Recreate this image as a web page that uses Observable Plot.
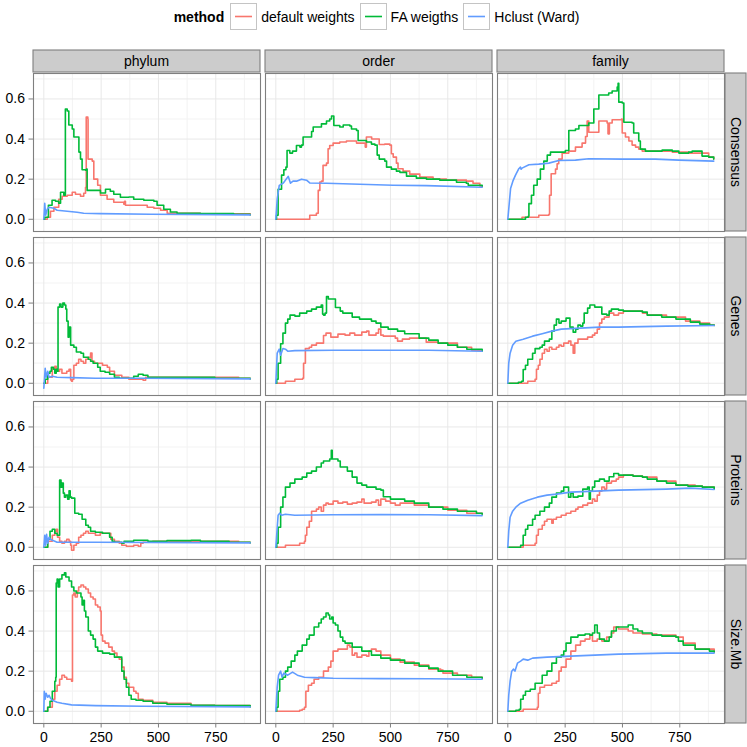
<!DOCTYPE html>
<html>
<head>
<meta charset="utf-8">
<script src="https://cdn.jsdelivr.net/npm/d3@7"></script>
<script src="https://cdn.jsdelivr.net/npm/@observablehq/plot@0.6"></script>
<style>
  html, body { margin: 0; padding: 0; background: white; }
  body { width: 747px; height: 747px; overflow: hidden; font-family: "Liberation Sans", Arial, Helvetica, sans-serif; }
  #legend { height: 48px; box-sizing: border-box; padding: 3px 22px 0 33px; display: flex; justify-content: center; align-items: flex-start; font-size: 14px; color: #000; }
  #legend .item { display: flex; align-items: center; height: 27px; }
  #legend .title { font-weight: bold; margin-right: 6px; }
  #legend .key { width: 25px; height: 25px; border: 1px solid #c4c4c4; background: white; margin-right: 4px; }
  #legend .lab { margin-right: 5px; }
  #chart svg { display: block; }
</style>
</head>
<body>
<div id="legend"></div>
<div id="chart"></div>
<script>
// ---- categories ----
const cols = ["phylum", "order", "family"];
const rows = ["Consensus", "Genes", "Proteins", "Size.Mb"];
const methods = ["default weights", "FA weigths", "Hclust (Ward)"];
const methodColors = ["#F8766D", "#00BA38", "#619CFF"];
const xTicks = [0, 250, 500, 750];
const xMinor = [125, 375, 625, 875];
const yTicks = [0, 0.2, 0.4, 0.6];
const yMinor = [0.1, 0.3, 0.5, 0.7];

// ---- series values: [x, y] ----
// Consensus
const cons_phy_def = [[0,0],[15,0.01],[29,0.04],[44,0.06],[65,0.10],[80,0.115],[102,0.12],[124,0.135],[138,0.125],[160,0.115],[174,0.13],[182,0.16],[185,0.51],[192,0.50],[193,0.30],[211,0.29],[218,0.20],[233,0.20],[235,0.17],[247,0.12],[276,0.10],[305,0.085],[349,0.075],[352,0.09],[356,0.07],[407,0.07],[451,0.06],[480,0.055],[509,0.045],[538,0.03],[567,0.03],[683,0.027],[900,0.022]];
const cons_phy_fa = [[0,0],[4,0.01],[20,0.07],[36,0.095],[51,0.09],[65,0.08],[73,0.135],[87,0.12],[94,0.55],[102,0.54],[109,0.47],[124,0.45],[131,0.41],[148,0.41],[153,0.335],[160,0.30],[167,0.247],[182,0.245],[186,0.25],[189,0.144],[247,0.131],[269,0.15],[290,0.14],[305,0.125],[334,0.11],[371,0.111],[392,0.10],[436,0.095],[480,0.09],[494,0.07],[523,0.05],[552,0.036],[581,0.03],[683,0.028],[828,0.025],[900,0.022]];
const cons_phy_hc = [[0,0],[4,0.08],[8,0.02],[15,0.05],[22,0.06],[44,0.055],[58,0.045],[102,0.04],[145,0.035],[174,0.03],[247,0.028],[465,0.025],[900,0.022]];
const cons_ord_def = [[0,0],[148,0.02],[177,0.03],[185,0.144],[192,0.186],[199,0.19],[206,0.269],[221,0.28],[228,0.352],[235,0.368],[250,0.38],[279,0.385],[308,0.39],[344,0.39],[352,0.38],[385,0.38],[390,0.36],[395,0.41],[410,0.41],[418,0.40],[439,0.40],[451,0.373],[475,0.375],[497,0.37],[504,0.327],[512,0.31],[526,0.28],[533,0.252],[555,0.24],[584,0.225],[628,0.21],[686,0.20],[744,0.195],[831,0.19],[860,0.18],[890,0.165],[900,0.163]];
const cons_ord_fa = [[0,0],[3,0.02],[10,0.15],[25,0.22],[35,0.247],[44,0.26],[49,0.343],[61,0.33],[73,0.34],[90,0.368],[105,0.36],[112,0.37],[119,0.41],[148,0.41],[156,0.438],[163,0.46],[199,0.476],[221,0.49],[235,0.50],[243,0.515],[253,0.468],[279,0.46],[294,0.47],[323,0.465],[330,0.45],[352,0.443],[359,0.393],[395,0.385],[417,0.375],[432,0.37],[442,0.32],[451,0.30],[475,0.29],[483,0.26],[504,0.25],[526,0.24],[541,0.234],[570,0.215],[613,0.205],[657,0.20],[715,0.195],[788,0.185],[831,0.18],[839,0.17],[875,0.17],[900,0.165]];
const cons_ord_hc = [[0,0],[6,0.10],[15,0.169],[32,0.18],[54,0.214],[64,0.18],[75,0.19],[90,0.19],[112,0.20],[134,0.195],[148,0.181],[221,0.18],[366,0.175],[512,0.17],[657,0.168],[900,0.16]];
const cons_fam_def = [[0,0],[62,0.01],[135,0.02],[179,0.025],[182,0.12],[189,0.227],[208,0.25],[215,0.277],[222,0.30],[237,0.33],[266,0.34],[295,0.36],[324,0.38],[339,0.413],[346,0.49],[353,0.434],[397,0.49],[411,0.49],[433,0.48],[437,0.426],[443,0.48],[455,0.496],[496,0.50],[499,0.43],[513,0.41],[528,0.39],[542,0.37],[557,0.36],[571,0.35],[586,0.34],[644,0.34],[717,0.335],[789,0.33],[876,0.31],[898,0.30]];
const cons_fam_fa = [[0,0],[77,0.01],[89,0.015],[92,0.078],[103,0.12],[113,0.17],[128,0.20],[142,0.25],[157,0.29],[172,0.32],[186,0.335],[251,0.343],[266,0.443],[295,0.45],[310,0.468],[353,0.48],[375,0.55],[397,0.62],[440,0.63],[455,0.64],[477,0.66],[481,0.678],[484,0.584],[499,0.58],[506,0.484],[542,0.48],[549,0.43],[571,0.39],[578,0.35],[600,0.34],[673,0.345],[717,0.34],[746,0.33],[789,0.335],[804,0.34],[833,0.34],[847,0.315],[876,0.31],[898,0.30]];
const cons_fam_hc = [[0,0],[4,0.05],[12,0.153],[22,0.19],[33,0.219],[48,0.252],[55,0.26],[58,0.25],[62,0.255],[92,0.272],[135,0.275],[179,0.28],[222,0.293],[295,0.295],[353,0.302],[499,0.30],[644,0.30],[746,0.295],[898,0.29]];
// Genes
const gene_phy_def = [[0,0],[17,0.03],[37,0.074],[48,0.085],[54,0.06],[69,0.07],[79,0.05],[100,0.06],[110,0.07],[117,0.016],[121,0.01],[125,0.02],[131,0.09],[142,0.10],[152,0.12],[162,0.11],[173,0.10],[183,0.12],[194,0.13],[204,0.151],[210,0.11],[221,0.10],[246,0.10],[256,0.09],[277,0.08],[287,0.06],[308,0.04],[340,0.03],[371,0.02],[433,0.015],[444,0.03],[475,0.03],[642,0.03],[850,0.025],[900,0.022]];
const gene_phy_fa = [[0,0],[6,0.02],[17,0.05],[27,0.06],[33,0.08],[42,0.07],[48,0.05],[54,0.07],[58,0.06],[62,0.38],[69,0.395],[75,0.38],[83,0.40],[90,0.39],[96,0.37],[100,0.31],[106,0.23],[110,0.28],[114,0.28],[117,0.19],[131,0.18],[142,0.156],[162,0.15],[173,0.13],[194,0.12],[204,0.11],[215,0.10],[235,0.08],[246,0.06],[267,0.055],[287,0.045],[308,0.03],[329,0.025],[371,0.025],[392,0.035],[412,0.045],[433,0.04],[454,0.03],[537,0.03],[683,0.03],[746,0.025],[900,0.022]];
const gene_phy_hc = [[0,-0.025],[6,0.075],[10,0.03],[17,0.06],[23,0.03],[37,0.035],[58,0.03],[121,0.028],[225,0.025],[433,0.025],[900,0.022]];
const gene_ord_def = [[0,0],[42,0.01],[83,0.02],[117,0.025],[121,0.10],[129,0.173],[146,0.18],[156,0.19],[177,0.20],[198,0.20],[208,0.238],[219,0.25],[229,0.25],[240,0.23],[271,0.245],[302,0.24],[323,0.25],[344,0.24],[375,0.255],[396,0.26],[406,0.24],[437,0.25],[448,0.27],[458,0.24],[469,0.235],[521,0.225],[531,0.21],[552,0.22],[583,0.225],[646,0.225],[656,0.205],[708,0.20],[792,0.18],[854,0.165],[900,0.16]];
const gene_ord_fa = [[0,0],[4,0.02],[10,0.10],[21,0.197],[31,0.25],[42,0.30],[52,0.32],[62,0.34],[83,0.335],[104,0.35],[125,0.35],[135,0.36],[156,0.37],[177,0.38],[198,0.39],[204,0.345],[208,0.34],[215,0.35],[221,0.432],[229,0.42],[250,0.42],[260,0.378],[281,0.36],[292,0.35],[333,0.33],[365,0.32],[417,0.31],[437,0.30],[458,0.28],[490,0.27],[531,0.26],[562,0.247],[625,0.225],[667,0.215],[708,0.20],[750,0.19],[792,0.18],[833,0.17],[900,0.16]];
const gene_ord_hc = [[0,0],[6,0.15],[15,0.17],[21,0.14],[31,0.173],[42,0.17],[52,0.16],[83,0.163],[250,0.165],[458,0.165],[667,0.165],[900,0.16]];
const gene_fam_def = [[0,0],[87,0.01],[119,0.02],[125,0.07],[133,0.09],[140,0.12],[150,0.15],[160,0.17],[171,0.16],[181,0.18],[192,0.17],[212,0.18],[223,0.19],[233,0.185],[244,0.20],[265,0.21],[275,0.19],[285,0.15],[292,0.20],[306,0.22],[327,0.22],[348,0.23],[369,0.24],[379,0.25],[390,0.27],[400,0.30],[410,0.32],[421,0.33],[442,0.35],[462,0.34],[483,0.35],[504,0.36],[546,0.36],[587,0.35],[608,0.34],[692,0.33],[775,0.31],[837,0.30],[880,0.29],[900,0.288]];
const gene_fam_fa = [[0,0],[46,0.005],[60,0.01],[67,0.069],[77,0.09],[87,0.12],[108,0.15],[119,0.173],[140,0.18],[150,0.19],[160,0.21],[181,0.22],[192,0.26],[202,0.29],[212,0.32],[223,0.30],[233,0.31],[254,0.325],[265,0.325],[271,0.28],[285,0.255],[296,0.27],[306,0.29],[317,0.285],[327,0.30],[333,0.35],[348,0.375],[358,0.39],[379,0.38],[400,0.38],[410,0.345],[431,0.34],[442,0.36],[452,0.37],[483,0.365],[504,0.36],[587,0.355],[608,0.34],[671,0.33],[733,0.32],[796,0.305],[837,0.295],[880,0.29],[900,0.288]];
const gene_fam_hc = [[0,0],[4,0.10],[10,0.15],[21,0.19],[35,0.21],[67,0.22],[108,0.235],[150,0.247],[192,0.26],[233,0.27],[317,0.275],[400,0.28],[483,0.28],[692,0.285],[900,0.288]];
// Proteins
const prot_phy_def = [[0,0],[17,0.03],[37,0.06],[48,0.08],[54,0.09],[60,0.05],[69,0.03],[79,0.02],[90,0.03],[100,0.04],[110,0.03],[117,0.01],[121,-0.015],[131,0.01],[142,0.02],[152,0.05],[162,0.06],[173,0.07],[183,0.08],[194,0.07],[215,0.07],[225,0.06],[246,0.07],[287,0.07],[292,0.04],[308,0.03],[329,0.02],[340,0.01],[360,0.005],[392,0.01],[412,0.005],[423,0.02],[433,0.025],[475,0.03],[642,0.03],[850,0.025],[900,0.022]];
const prot_phy_fa = [[0,0],[17,0.04],[27,0.08],[37,0.09],[48,0.07],[58,0.06],[65,0.06],[69,0.335],[75,0.30],[79,0.32],[85,0.27],[90,0.25],[96,0.26],[104,0.24],[110,0.282],[115,0.25],[121,0.245],[131,0.245],[135,0.17],[152,0.165],[167,0.14],[183,0.11],[194,0.10],[204,0.08],[225,0.075],[256,0.07],[277,0.07],[287,0.05],[298,0.03],[308,0.025],[340,0.02],[350,0.03],[392,0.035],[433,0.035],[454,0.03],[537,0.033],[642,0.035],[683,0.03],[808,0.025],[900,0.022]];
const prot_phy_hc = [[0,0],[4,0.06],[8,0.01],[12,0.065],[17,0.02],[23,0.05],[29,0.04],[37,0.035],[48,0.03],[58,0.025],[225,0.025],[900,0.022]];
const prot_ord_def = [[0,0],[42,0.01],[104,0.02],[125,0.03],[129,0.06],[135,0.10],[146,0.13],[156,0.18],[177,0.19],[187,0.20],[198,0.18],[208,0.21],[219,0.22],[229,0.215],[250,0.23],[271,0.22],[292,0.225],[312,0.215],[333,0.22],[354,0.225],[375,0.24],[385,0.22],[417,0.225],[437,0.235],[448,0.21],[458,0.24],[479,0.23],[500,0.22],[521,0.21],[542,0.22],[562,0.22],[604,0.21],[667,0.20],[750,0.185],[833,0.17],[900,0.165]];
const prot_ord_fa = [[0,0],[4,0.02],[10,0.10],[21,0.20],[31,0.25],[42,0.30],[62,0.32],[83,0.34],[115,0.35],[135,0.37],[156,0.38],[177,0.40],[198,0.42],[208,0.43],[229,0.43],[235,0.44],[242,0.483],[246,0.44],[271,0.43],[281,0.40],[302,0.40],[312,0.38],[333,0.35],[354,0.32],[375,0.31],[396,0.30],[437,0.29],[458,0.285],[469,0.252],[500,0.24],[562,0.23],[604,0.22],[667,0.20],[729,0.19],[792,0.18],[875,0.17],[900,0.165]];
const prot_ord_hc = [[0,0],[10,0.16],[17,0.17],[25,0.16],[42,0.165],[83,0.16],[250,0.162],[458,0.163],[667,0.162],[900,0.158]];
const prot_fam_def = [[0,0],[67,0.01],[119,0.02],[125,0.06],[133,0.09],[150,0.11],[160,0.13],[171,0.14],[192,0.12],[198,0.14],[212,0.15],[233,0.16],[254,0.17],[275,0.18],[296,0.19],[306,0.20],[327,0.21],[348,0.22],[358,0.22],[369,0.24],[379,0.23],[390,0.26],[400,0.28],[410,0.30],[421,0.29],[431,0.32],[452,0.33],[473,0.34],[483,0.35],[504,0.36],[546,0.355],[587,0.35],[650,0.33],[733,0.31],[817,0.305],[848,0.30],[900,0.29]];
const prot_fam_fa = [[0,0],[56,0.01],[67,0.06],[77,0.09],[87,0.11],[108,0.14],[119,0.16],[140,0.18],[160,0.20],[181,0.22],[192,0.25],[212,0.27],[233,0.28],[244,0.30],[258,0.30],[265,0.25],[275,0.27],[285,0.25],[306,0.255],[327,0.29],[348,0.30],[355,0.24],[360,0.28],[369,0.30],[379,0.33],[400,0.34],[421,0.33],[442,0.352],[462,0.368],[483,0.36],[504,0.36],[546,0.355],[587,0.35],[608,0.34],[650,0.33],[692,0.32],[733,0.31],[785,0.305],[848,0.30],[900,0.29]];
const prot_fam_hc = [[0,0],[4,0.08],[10,0.15],[21,0.18],[35,0.20],[56,0.22],[87,0.235],[129,0.25],[171,0.26],[212,0.265],[275,0.275],[379,0.28],[483,0.285],[692,0.29],[796,0.295],[900,0.288]];
// Size.Mb
const size_phy_def = [[0,0],[17,0.02],[37,0.06],[48,0.10],[58,0.13],[69,0.16],[79,0.18],[90,0.17],[100,0.16],[121,0.15],[125,0.58],[131,0.59],[137,0.57],[146,0.60],[152,0.62],[162,0.63],[173,0.62],[183,0.61],[194,0.59],[204,0.57],[215,0.56],[225,0.53],[235,0.52],[246,0.50],[250,0.38],[256,0.35],[267,0.34],[283,0.32],[298,0.30],[308,0.29],[319,0.27],[329,0.26],[340,0.22],[350,0.17],[360,0.14],[371,0.12],[392,0.10],[402,0.09],[412,0.06],[433,0.055],[475,0.045],[537,0.04],[642,0.03],[746,0.028],[900,0.022]];
const size_phy_fa = [[0,0],[17,0.02],[27,0.05],[37,0.10],[48,0.15],[52,0.17],[54,0.64],[58,0.66],[62,0.62],[69,0.66],[79,0.68],[90,0.69],[96,0.67],[110,0.65],[121,0.62],[131,0.60],[142,0.59],[162,0.57],[167,0.53],[173,0.554],[177,0.50],[183,0.47],[194,0.40],[204,0.38],[215,0.36],[225,0.32],[235,0.30],[246,0.30],[256,0.29],[287,0.285],[308,0.27],[329,0.27],[340,0.20],[350,0.16],[360,0.12],[371,0.08],[381,0.06],[402,0.055],[433,0.05],[475,0.04],[537,0.035],[642,0.03],[746,0.028],[900,0.022]];
const size_phy_hc = [[0,0],[2,0.10],[6,0.06],[10,0.09],[17,0.07],[23,0.08],[29,0.065],[37,0.055],[58,0.045],[79,0.04],[121,0.032],[225,0.028],[433,0.025],[900,0.022]];
const size_ord_def = [[0,0],[83,0],[104,0.005],[115,0.01],[125,0.02],[131,0.10],[142,0.13],[156,0.14],[167,0.16],[187,0.17],[208,0.20],[229,0.22],[240,0.25],[250,0.30],[271,0.31],[292,0.31],[312,0.33],[323,0.32],[333,0.28],[344,0.29],[354,0.27],[375,0.28],[396,0.275],[406,0.30],[417,0.31],[437,0.30],[458,0.28],[500,0.26],[542,0.245],[604,0.23],[667,0.21],[719,0.205],[729,0.19],[792,0.18],[854,0.17],[900,0.165]];
const size_ord_fa = [[0,0],[4,0.02],[10,0.10],[17,0.16],[31,0.17],[42,0.20],[52,0.22],[67,0.25],[83,0.28],[94,0.30],[115,0.33],[135,0.36],[146,0.38],[167,0.42],[187,0.44],[198,0.46],[208,0.47],[219,0.49],[229,0.48],[235,0.46],[244,0.47],[250,0.44],[260,0.43],[271,0.40],[281,0.37],[292,0.35],[302,0.34],[333,0.32],[375,0.30],[417,0.28],[458,0.265],[500,0.255],[562,0.24],[625,0.225],[667,0.215],[708,0.20],[771,0.18],[833,0.17],[900,0.165]];
const size_ord_hc = [[0,0],[6,0.12],[12,0.18],[21,0.20],[27,0.17],[35,0.19],[52,0.18],[73,0.195],[94,0.18],[125,0.17],[167,0.168],[250,0.165],[458,0.163],[667,0.162],[900,0.16]];
const size_fam_def = [[0,0],[67,0.01],[129,0.02],[133,0.09],[140,0.12],[160,0.13],[192,0.14],[212,0.15],[223,0.20],[233,0.22],[254,0.26],[275,0.30],[296,0.33],[317,0.35],[337,0.36],[358,0.38],[369,0.35],[390,0.36],[410,0.35],[431,0.37],[452,0.39],[462,0.42],[483,0.41],[504,0.41],[525,0.40],[546,0.39],[587,0.385],[650,0.38],[733,0.37],[765,0.34],[817,0.31],[900,0.295]];
const size_fam_fa = [[0,0],[35,0.005],[50,0.01],[56,0.06],[67,0.08],[77,0.10],[98,0.11],[119,0.14],[150,0.18],[171,0.20],[192,0.24],[212,0.27],[233,0.28],[244,0.30],[254,0.34],[275,0.37],[306,0.38],[337,0.385],[358,0.38],[369,0.39],[379,0.43],[390,0.39],[400,0.36],[421,0.35],[442,0.37],[452,0.40],[473,0.42],[504,0.42],[525,0.43],[546,0.41],[567,0.40],[587,0.39],[629,0.38],[671,0.375],[733,0.37],[744,0.35],[765,0.33],[817,0.31],[879,0.30],[900,0.295]];
const size_fam_hc = [[0,0],[4,0.08],[10,0.15],[17,0.20],[25,0.21],[31,0.20],[42,0.24],[56,0.25],[67,0.26],[87,0.255],[108,0.265],[171,0.27],[275,0.275],[379,0.28],[483,0.285],[692,0.29],[900,0.29]];

const seriesList = [
  ["Consensus","phylum",cons_phy_def,cons_phy_fa,cons_phy_hc],
  ["Consensus","order",cons_ord_def,cons_ord_fa,cons_ord_hc],
  ["Consensus","family",cons_fam_def,cons_fam_fa,cons_fam_hc],
  ["Genes","phylum",gene_phy_def,gene_phy_fa,gene_phy_hc],
  ["Genes","order",gene_ord_def,gene_ord_fa,gene_ord_hc],
  ["Genes","family",gene_fam_def,gene_fam_fa,gene_fam_hc],
  ["Proteins","phylum",prot_phy_def,prot_phy_fa,prot_phy_hc],
  ["Proteins","order",prot_ord_def,prot_ord_fa,prot_ord_hc],
  ["Proteins","family",prot_fam_def,prot_fam_fa,prot_fam_hc],
  ["Size.Mb","phylum",size_phy_def,size_phy_fa,size_phy_hc],
  ["Size.Mb","order",size_ord_def,size_ord_fa,size_ord_hc],
  ["Size.Mb","family",size_fam_def,size_fam_fa,size_fam_hc]
];

const data = [];
for (const [row, col, ...sets] of seriesList) {
  sets.forEach((pts, i) => {
    for (const [x, y] of pts) data.push({row, col, method: methods[i], x, y});
  });
}
const byMethod = m => data.filter(d => d.method === m);

// ---- legend ----
const legend = document.getElementById("legend");
legend.innerHTML = `<div class="item title">method</div>` + methods.map((m, i) =>
  `<div class="item"><div class="key"><svg width="25" height="25"><line x1="4" x2="21" y1="12.5" y2="12.5" stroke="${methodColors[i]}" stroke-width="1.6"/></svg></div><span class="lab">${m}</span></div>`
).join("");

// ---- plot ----
const lineOpts = {x: "x", y: "y", fx: "col", fy: "row", z: "method", stroke: "method", strokeWidth: 1.6};
const plot = Plot.plot({
  width: 747,
  height: 699,
  marginTop: 24,
  marginRight: 22,
  marginBottom: 24,
  marginLeft: 33,
  style: {fontFamily: "'Liberation Sans', Arial, Helvetica, sans-serif", fontSize: "14px", background: "white", color: "black"},
  fx: {domain: cols, paddingInner: 0.021, paddingOuter: 0, axis: null, label: null},
  fy: {domain: rows, paddingInner: 0.0395, paddingOuter: 0, axis: null, label: null},
  x: {domain: [-45, 945], label: null},
  y: {domain: [-0.061, 0.727], label: null},
  color: {domain: methods, range: methodColors},
  marks: [
    Plot.gridX({ticks: xMinor, stroke: "#f4f4f4", strokeOpacity: 1, strokeWidth: 1.2}),
    Plot.gridY({ticks: yMinor, stroke: "#f4f4f4", strokeOpacity: 1, strokeWidth: 1.2}),
    Plot.gridX({ticks: xTicks, stroke: "#e8e8e8", strokeOpacity: 1, strokeWidth: 1}),
    Plot.gridY({ticks: yTicks, stroke: "#e8e8e8", strokeOpacity: 1, strokeWidth: 1}),
    Plot.line(byMethod(methods[0]), {...lineOpts, curve: "step-after"}),
    Plot.line(byMethod(methods[1]), {...lineOpts, curve: "step-after"}),
    Plot.line(byMethod(methods[2]), {...lineOpts, curve: "linear"}),
    Plot.frame({stroke: "#7f7f7f", strokeWidth: 1.1}),
    Plot.axisX({ticks: xTicks, tickSize: 4.5, tickPadding: 4, stroke: "#7f7f7f", fill: "black", fontSize: 14, label: null}),
    Plot.axisY({ticks: yTicks, tickSize: 4.5, tickPadding: 4, tickFormat: d3.format(".1f"), stroke: "#7f7f7f", fill: "black", fontSize: 14, label: null})
  ]
});
document.getElementById("chart").appendChild(plot);

// ---- facet strips (ggplot style) ----
const fx = plot.scale("fx"), fy = plot.scale("fy");
const svg = d3.select(plot);
const strips = svg.append("g").attr("font-size", 14).attr("fill", "black");
for (const c of cols) {
  const x0 = fx.apply(c), w = fx.bandwidth;
  strips.append("rect").attr("x", x0).attr("y", 2).attr("width", w).attr("height", 22)
    .attr("fill", "#cccccc").attr("stroke", "#7f7f7f").attr("stroke-width", 1.1);
  strips.append("text").attr("x", x0 + w / 2).attr("y", 13).attr("text-anchor", "middle")
    .attr("dominant-baseline", "central").text(c);
}
const xr = 747 - 22;
for (const r of rows) {
  const y0 = fy.apply(r), h = fy.bandwidth;
  strips.append("rect").attr("x", xr).attr("y", y0).attr("width", 21).attr("height", h)
    .attr("fill", "#cccccc").attr("stroke", "#7f7f7f").attr("stroke-width", 1.1);
  strips.append("text").attr("transform", `translate(${xr + 10.5},${y0 + h / 2}) rotate(90)`)
    .attr("text-anchor", "middle").attr("dominant-baseline", "central").text(r);
}
</script>
</body>
</html>
